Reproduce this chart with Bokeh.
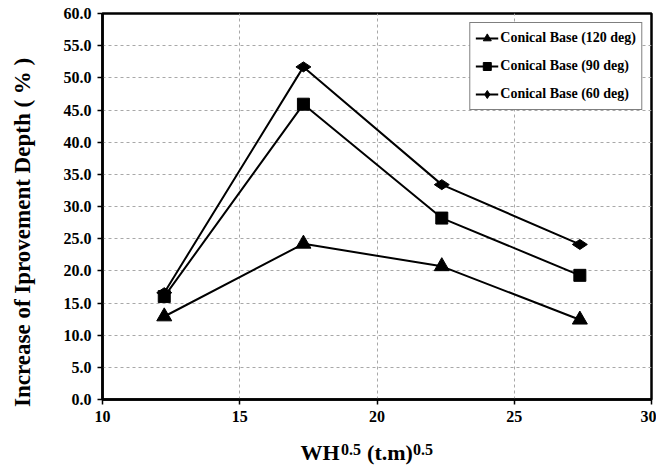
import math
from bokeh.plotting import figure
from bokeh.models import Range1d, FixedTicker, NumeralTickFormatter, Title, Legend, LegendItem
from bokeh.embed import file_html
from bokeh.resources import INLINE

# ---- data ----
wh = [12.25, 17.32, 22.36, 27.39]
deg120 = [12.9, 24.2, 20.7, 12.4]
deg90 = [16.0, 45.9, 28.2, 19.3]
deg60 = [16.6, 51.7, 33.4, 24.1]
series_names = ["Conical Base (120 deg)", "Conical Base (90 deg)", "Conical Base (60 deg)"]
x_ticks = [10, 15, 20, 25, 30]
y_ticks = [0, 5, 10, 15, 20, 25, 30, 35, 40, 45, 50, 55, 60]
x_label_main = ["WH", "(t.m)"]
x_label_sup = "0.5"
y_label = "Increase of Iprovement Depth ( % )"

FONT = "Liberation Serif"
NB = "\u00a0"

p = figure(width=656, height=465, output_backend="svg", toolbar_location=None,
           x_range=Range1d(10, 30), y_range=Range1d(0, 60),
           min_border_left=102, min_border_top=13, min_border_right=5, min_border_bottom=66)

p.outline_line_color = "black"
p.outline_line_width = 2.5
p.outline_line_alpha = 1.0

for ax in (p.xaxis[0], p.yaxis[0]):
    ax.axis_line_width = 2.5
    ax.axis_line_color = "black"
    ax.major_tick_line_width = 1.5
    ax.major_tick_line_color = "black"
    ax.major_tick_out = 5
    ax.major_tick_in = 0
    ax.minor_tick_line_color = None
    ax.major_label_text_font = FONT
    ax.major_label_text_font_style = "bold"
    ax.major_label_text_font_size = "16px"
    ax.major_label_text_color = "black"

p.xaxis.ticker = FixedTicker(ticks=x_ticks)
p.yaxis.ticker = FixedTicker(ticks=y_ticks)
p.yaxis.formatter = NumeralTickFormatter(format="0.0")
p.xaxis.major_label_standoff = 6
p.yaxis.major_label_standoff = 6

# superscript row of the x label (the two "0.5")
p.xaxis.axis_label = NB * 5 + x_label_sup + NB * 13 + x_label_sup
p.xaxis.axis_label_text_font = FONT
p.xaxis.axis_label_text_font_style = "bold"
p.xaxis.axis_label_text_font_size = "16px"
p.xaxis.axis_label_text_color = "black"
p.xaxis.axis_label_standoff = 16

# y axis label
p.yaxis.axis_label = y_label + NB * 9
p.yaxis.axis_label_text_font = FONT
p.yaxis.axis_label_text_font_style = "bold"
p.yaxis.axis_label_text_font_size = "23px"
p.yaxis.axis_label_text_color = "black"
p.yaxis.axis_label_standoff = 26

p.xgrid.ticker = FixedTicker(ticks=x_ticks)
p.ygrid.ticker = FixedTicker(ticks=y_ticks)
for g in (p.xgrid[0], p.ygrid[0]):
    g.grid_line_color = "#a8a8a8"
    g.grid_line_dash = "3 3"
    g.grid_line_width = 1

l1 = p.line(wh, deg120, line_color="black", line_width=2)
s1 = p.scatter(wh, deg120, marker="triangle", size=15, fill_color="black", line_color="black")
l2 = p.line(wh, deg90, line_color="black", line_width=2)
s2 = p.scatter(wh, deg90, marker="square", size=12, fill_color="black", line_color="black")
l3 = p.line(wh, deg60, line_color="black", line_width=2)
s3 = p.scatter(wh, deg60, marker="diamond", size=15, angle=math.pi / 2,
               fill_color="black", line_color="black")

legend = Legend(items=[LegendItem(label=series_names[0], renderers=[l1, s1]),
                       LegendItem(label=series_names[1], renderers=[l2, s2]),
                       LegendItem(label=series_names[2], renderers=[l3, s3])],
                location="top_right")
legend.margin = 9
legend.padding = 5
legend.spacing = 8
legend.glyph_width = 23
legend.label_standoff = 2
legend.label_height = 20
legend.glyph_height = 20
legend.border_line_color = "black"
legend.border_line_width = 1.5
legend.background_fill_color = "white"
legend.background_fill_alpha = 1.0
legend.label_text_font = FONT
legend.label_text_font_style = "bold"
legend.label_text_font_size = "14px"
legend.label_text_color = "black"
p.add_layout(legend)

# main row of the x label
xt = Title(text=x_label_main[0] + NB * 5 + x_label_main[1], align="left", offset=198,
           vertical_align="top", standoff=-42,
           text_font=FONT, text_font_style="bold", text_font_size="22px", text_color="black")
p.add_layout(xt, "below")

open("out.html", "w").write(file_html(p, INLINE))
